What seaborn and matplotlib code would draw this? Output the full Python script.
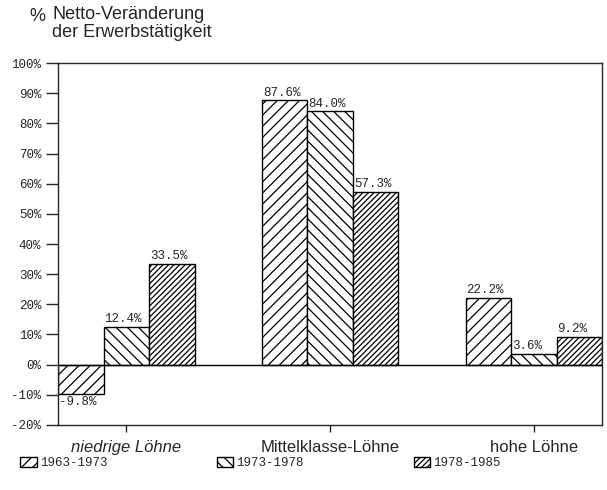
import pandas as pd
import numpy as np
import matplotlib
matplotlib.use("Agg")
import matplotlib.pyplot as plt
import seaborn as sns

# Daten
kategorien = ["niedrige Löhne", "Mittelklasse-Löhne", "hohe Löhne"]
perioden = ["1963-1973", "1973-1978", "1978-1985"]
werte_1963_1973 = [-9.8, 87.6, 22.2]
werte_1973_1978 = [12.4, 84.0, 3.6]
werte_1978_1985 = [33.5, 57.3, 9.2]
y_ticks = list(range(-20, 101, 10))

df = pd.DataFrame({
    "kategorie": kategorien * 3,
    "periode": [p for p in perioden for _ in kategorien],
    "wert": werte_1963_1973 + werte_1973_1978 + werte_1978_1985,
})

sns.set_style("ticks")
mono = "Liberation Mono"
sans = "Liberation Sans"
plt.rcParams["hatch.linewidth"] = 0.9

fig = plt.figure(figsize=(6.07, 4.90), dpi=100)
ax = fig.add_axes([0.0956, 0.1327, 0.8962, 0.7386])

sns.barplot(data=df, x="kategorie", y="wert", hue="periode", order=kategorien,
            hue_order=perioden, palette=["white"] * 3, edgecolor="black",
            linewidth=1, width=0.67, legend=False, ax=ax)

# Schraffur je Zeitraum
schraffur = ["///", "\\\\\\", "//////"]
for cont, h in zip(ax.containers, schraffur):
    for bar, v in zip(cont, cont.datavalues):
        bar.set_hatch(h)
        bar.set_edgecolor("black")
        if v >= 0:
            ax.text(bar.get_x() + 0.005, v + 0.6, f"{v:.1f}%", ha="left", va="bottom",
                    fontsize=9, family=mono)
        else:
            ax.text(bar.get_x() + 0.005, v - 0.6, f"{v:.1f}%", ha="left", va="top",
                    fontsize=9, family=mono)

ax.axhline(0, color="black", lw=1)
ax.set_xlim(-0.335, 2.335)
ax.set_ylim(-20, 100)
ax.set_yticks(y_ticks)
ax.set_yticklabels([f"{t}%" for t in y_ticks], family=mono, fontsize=9)
ax.tick_params(axis="y", length=9, width=1, pad=3)
ax.tick_params(axis="x", length=5, width=1, pad=6)
ax.set_xticks(range(3))
ax.set_xticklabels(kategorien, family=sans, fontsize=12)
ax.get_xticklabels()[0].set_style("italic")
ax.set_xlabel("")
ax.set_ylabel("")
for s in ax.spines.values():
    s.set_visible(True)
    s.set_linewidth(1)

# Titel
fig.text(0.048, 0.967, "%", family=sans, fontsize=13, va="center")
fig.text(0.086, 0.988, "Netto-Veränderung\nder Erwerbstätigkeit", family=sans,
         fontsize=13, va="top", linespacing=1.05)

handles = [c.patches[0] for c in ax.containers]
fig.legend(handles, perioden, loc="center left", bbox_to_anchor=(0.015, 0.055),
           ncol=3, frameon=False, prop={"family": mono, "size": 9},
           handlelength=1.3, handleheight=0.9, handletextpad=0.25, columnspacing=8.8)

fig.savefig("out.png", dpi=100)
